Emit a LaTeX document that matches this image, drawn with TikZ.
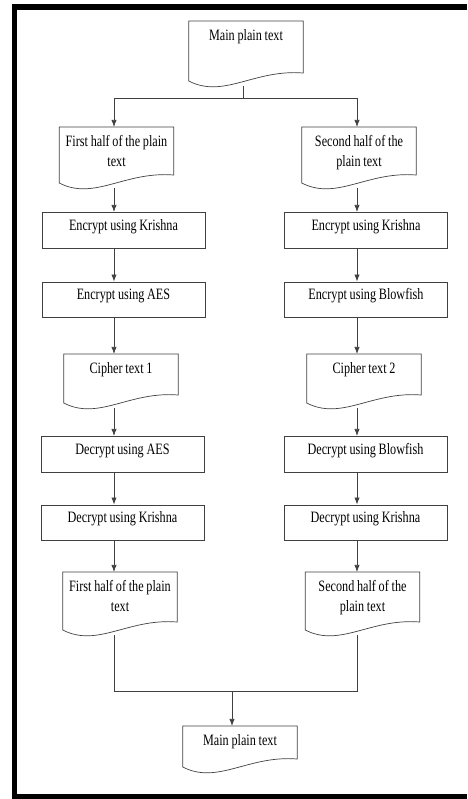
\documentclass[tikz,border=0pt]{standalone}
\usepackage{fontspec}
\setmainfont{Liberation Serif}[FakeStretch=0.77, WordSpace=0.9]
\usetikzlibrary{
	positioning,
	arrows.meta,
	calc}
\tikzset{
	flow chart/.style={
		x=0.03cm, y=-0.03cm,
		font=\fontsize{13.5}{17}\selectfont,
		},
	line/.style={draw=black!75, line width=0.6pt},
	arrow/.style={line, -{Latex[length=6pt,width=4.5pt]}},
	frame/.style={draw=black, line width=0.16cm},
	box/.style={
		rectangle,
		draw=black!75,
		line width=0.6pt,
		anchor=north,
		minimum width=4.89cm,
		inner sep=0pt,
		text height=15.3pt,
		text depth=15.3pt
	},
	doc/.style={
		anchor=north,
		text width=3.42cm,
		align=flush center,
		inner xsep=0pt,
		inner ysep=7pt,
		append after command={\pgfextra{\let\docnode\tikzlastnode
			\draw[line] (\docnode.north west) -- (\docnode.north east)
				-- ([shift={(0,#1-8)}]\docnode.north east)
				.. controls ([shift={(-49,#1-12)}]\docnode.north east)
				and ([shift={(35,#1+18)}]\docnode.north west)
				.. ([shift={(0,#1)}]\docnode.north west) -- cycle;
			\coordinate (\docnode-out) at ([shift={(0,#1+5)}]\docnode.north);}}
	},
	doc/.default=56,
}

\begin{document}
\begin{tikzpicture}[flow chart]
	\useasboundingbox (0,0) rectangle (467,799);
	\draw[frame] (467,7) -- (14.5,7) -- (14.5,796.5) -- (467,796.5);

	\coordinate (colL) at (114,0);
	\coordinate (colR) at (357,0);
	\coordinate (split) at (243,98);
	\coordinate (join) at (232,691);

	\node[doc=60] (top) at (246,21) {Main plain text};
	\node[doc] (l1) at (116.5,127) {First half of the plain\\text};
	\node[doc] (r1) at (359,127) {Second half of the\\plain text};
	\node[box] (le1) at (123.5,212) {Encrypt using Krishna};
	\node[box] (re1) at (366,212) {Encrypt using Krishna};
	\node[box, below=0.99cm of le1] (le2) {Encrypt using AES};
	\node[box, below=0.99cm of re1] (re2) {Encrypt using Blowfish};
	\node[doc=49] (lc) at (121,354) {Cipher text 1};
	\node[doc=49] (rc) at (364,354) {Cipher text 2};
	\node[box] (ld1) at (122.5,436) {Decrypt using AES};
	\node[box] (rd1) at (365.5,436) {Decrypt using Blowfish};
	\node[box, below=0.96cm of ld1] (ld2) {Decrypt using Krishna};
	\node[box, below=0.96cm of rd1] (rd2) {Decrypt using Krishna};
	\node[doc=58] (l2) at (120,572) {First half of the plain\\text};
	\node[doc=58] (r2) at (362.5,572) {Second half of the\\plain text};
	\node[doc=41] (bot) at (240,726) {Main plain text};

	\draw[line] (top-out -| split) -- (split);
	\draw[arrow] (split) -| (l1.north -| colL);
	\draw[arrow] (split) -| (r1.north -| colR);
	\foreach \s/\t in {l1-out/le1.north, le1.south/le2.north, le2.south/lc.north,
		lc-out/ld1.north, ld1.south/ld2.north, ld2.south/l2.north}
		\draw[arrow] (\s -| colL) -- (\t -| colL);
	\foreach \s/\t in {r1-out/re1.north, re1.south/re2.north, re2.south/rc.north,
		rc-out/rd1.north, rd1.south/rd2.north, rd2.south/r2.north}
		\draw[arrow] (\s -| colR) -- (\t -| colR);
	\draw[line] (l2-out -| colL) |- (join);
	\draw[line] (r2-out -| colR) |- (join);
	\draw[arrow] (join) -- (bot.north -| join);
\end{tikzpicture}
\end{document}
